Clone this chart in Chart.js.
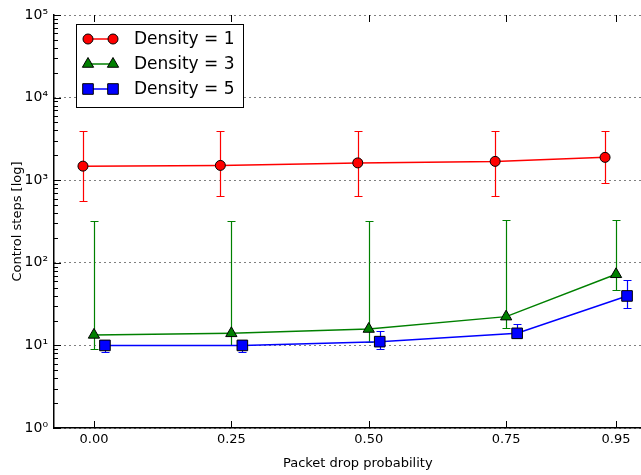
<!DOCTYPE html>
<html>
<head>
<meta charset="utf-8">
<script src="https://cdn.jsdelivr.net/npm/chart.js@4"></script>
<style>
    html, body { margin: 0; padding: 0; background: #fff; overflow: hidden; }
    #wrap { width: 670px; height: 475px; }
</style>
</head>
<body>
<div id="wrap"><canvas id="chart" width="670" height="475"></canvas></div>
<script>
// Data
const dropTicks = [0.00, 0.25, 0.50, 0.75, 0.95];
const tickLabels = ['0.00', '0.25', '0.50', '0.75', '0.95'];
const decadeLabels = ['10\u2070', '10\u00b9', '10\u00b2', '10\u00b3', '10\u2074', '10\u2075'];
const seriesLabels = ['Density = 1', 'Density = 3', 'Density = 5'];

const d1X = [-0.02, 0.23, 0.48, 0.73, 0.93];
const d1Y = [1480, 1510, 1620, 1690, 1890];
const d1Lo = [565, 650, 650, 650, 925];
const d1Hi = [3960, 3960, 3960, 3960, 3960];

const d3X = [0.00, 0.25, 0.50, 0.75, 0.95];
const d3Y = [13.4, 14, 15.8, 22.3, 72.6];
const d3Lo = [9.1, 10, 11, 16.2, 47];
const d3Hi = [318, 318, 318, 330, 330];

const d5X = [0.02, 0.27, 0.52, 0.77, 0.97];
const d5Y = [10, 10, 11.1, 14, 39.7];
const d5Lo = [8.3, 8.3, 9.1, 12.3, 28];
const d5Hi = [11.7, 11.7, 14.9, 18, 62];

const FONT = 'DejaVu Sans';

function points(xs, ys) {
    return xs.map((x, i) => ({ x: x, y: ys[i] }));
}

// error bars, drawn under the markers
const errorBars = {
    id: 'errorBars',
    beforeDatasetsDraw(chart) {
        const ctx = chart.ctx;
        const xs = chart.scales.x, ys = chart.scales.y;
        chart.data.datasets.forEach(ds => {
            ctx.save();
            ctx.strokeStyle = ds.errColor;
            ctx.lineWidth = 1.2;
            ds.data.forEach((p, i) => {
                const px = Math.round(xs.getPixelForValue(p.x)) + 0.5;
                const top = Math.round(ys.getPixelForValue(ds.errHi[i])) + 0.5;
                const bot = Math.round(ys.getPixelForValue(ds.errLo[i])) + 0.5;
                ctx.beginPath();
                ctx.moveTo(px, top); ctx.lineTo(px, bot);
                ctx.moveTo(px - 4, top); ctx.lineTo(px + 4, top);
                ctx.moveTo(px - 4, bot); ctx.lineTo(px + 4, bot);
                ctx.stroke();
            });
            ctx.restore();
        });
    }
};

// inward ticks (matplotlib classic look) and legend box
const frame = {
    id: 'frame',
    afterDraw(chart) {
        const ctx = chart.ctx;
        const area = chart.chartArea;
        const xs = chart.scales.x, ys = chart.scales.y;
        ctx.save();
        ctx.strokeStyle = '#000';
        ctx.lineWidth = 1;
        ctx.beginPath();
        dropTicks.forEach(v => {
            const px = Math.round(xs.getPixelForValue(v)) + 0.5;
            ctx.moveTo(px, area.bottom); ctx.lineTo(px, area.bottom - 7);
            ctx.moveTo(px, area.top); ctx.lineTo(px, area.top + 7);
        });
        for (let e = 0; e <= 5; e++) {
            const py = Math.round(ys.getPixelForValue(Math.pow(10, e))) + 0.5;
            ctx.moveTo(area.left, py); ctx.lineTo(area.left + 7, py);
            if (e < 5) {
                for (let m = 2; m <= 9; m++) {
                    const my = Math.round(ys.getPixelForValue(m * Math.pow(10, e))) + 0.5;
                    ctx.moveTo(area.left, my); ctx.lineTo(area.left + 4, my);
                }
            }
        }
        ctx.stroke();

        // legend
        const lx = 76, ly = 24, lw = 167, lh = 83;
        ctx.fillStyle = '#fff';
        ctx.fillRect(lx, ly, lw, lh);
        ctx.strokeRect(lx + 0.5, ly + 0.5, lw, lh);
        const rows = [39, 64, 89];
        chart.data.datasets.forEach((ds, i) => {
            const y = rows[i];
            ctx.strokeStyle = ds.borderColor;
            ctx.lineWidth = 1.5;
            ctx.beginPath();
            ctx.moveTo(88, y); ctx.lineTo(113, y);
            ctx.stroke();
            const opts = { pointStyle: ds.pointStyle, radius: ds.pointRadius, rotation: 0, borderWidth: 1 };
            ctx.fillStyle = ds.pointBackgroundColor;
            ctx.strokeStyle = '#000';
            ctx.lineWidth = 1;
            Chart.helpers.drawPoint(ctx, opts, 88, y);
            Chart.helpers.drawPoint(ctx, opts, 113, y);
            ctx.fillStyle = '#000';
            ctx.font = '17px "' + FONT + '"';
            ctx.textBaseline = 'middle';
            ctx.textAlign = 'left';
            ctx.fillText(ds.label, 134, y + 1);
        });
        ctx.restore();
    }
};

document.addEventListener('DOMContentLoaded', function() {
    const ctx = document.getElementById('chart').getContext('2d');

    const datasets = [
        { label: seriesLabels[0], data: points(d1X, d1Y), errLo: d1Lo, errHi: d1Hi, errColor: '#ff0000',
          borderColor: '#ff0000', pointBackgroundColor: '#ff0000', pointStyle: 'circle', pointRadius: 5 },
        { label: seriesLabels[1], data: points(d3X, d3Y), errLo: d3Lo, errHi: d3Hi, errColor: '#008000',
          borderColor: '#008000', pointBackgroundColor: '#008000', pointStyle: 'triangle', pointRadius: 6.5 },
        { label: seriesLabels[2], data: points(d5X, d5Y), errLo: d5Lo, errHi: d5Hi, errColor: '#0000ff',
          borderColor: '#0000ff', pointBackgroundColor: '#0000ff', pointStyle: 'rect', pointRadius: 7.5 }
    ];
    datasets.forEach(ds => {
        ds.borderWidth = 1.5;
        ds.pointBorderColor = '#000';
        ds.pointBorderWidth = 1;
        ds.pointHoverRadius = ds.pointRadius;
        ds.tension = 0;
        ds.fill = false;
    });

    new Chart(ctx, {
        type: 'line',
        data: { datasets: datasets },
        options: {
            responsive: false,
            animation: false,
            layout: { padding: { top: 15, left: 0, right: 2, bottom: 0 } },
            plugins: { legend: { display: false }, tooltip: { enabled: false } },
            scales: {
                x: {
                    type: 'linear',
                    min: -0.0727,
                    max: 1.0327,
                    afterBuildTicks: function(scale) {
                        scale.ticks = dropTicks.map(v => ({ value: v }));
                    },
                    afterFit: function(scale) { scale.height = 47; },
                    ticks: {
                        callback: function(value) {
                            const i = dropTicks.indexOf(value);
                            return i >= 0 ? tickLabels[i] : '';
                        },
                        color: '#000',
                        font: { family: FONT, size: 13 },
                        padding: 4,
                        maxRotation: 0,
                        autoSkip: false
                    },
                    grid: { display: false, drawTicks: false },
                    border: { color: '#000', width: 1.5 },
                    title: {
                        display: true,
                        text: 'Packet drop probability',
                        color: '#000',
                        font: { family: FONT, size: 13 },
                        padding: { top: 2, bottom: 4 }
                    }
                },
                y: {
                    type: 'logarithmic',
                    min: 1,
                    max: 100000,
                    afterBuildTicks: function(scale) {
                        scale.ticks = [0, 1, 2, 3, 4, 5].map(e => ({ value: Math.pow(10, e) }));
                    },
                    afterFit: function(scale) { scale.width = 54; },
                    ticks: {
                        callback: function(value) {
                            return decadeLabels[Math.round(Math.log10(value))];
                        },
                        color: '#000',
                        font: { family: FONT, size: 14 },
                        padding: 6
                    },
                    grid: {
                        color: '#000',
                        lineWidth: 1,
                        drawTicks: false
                    },
                    // in v4 the dash of the grid lines comes from border.dash
                    border: { color: '#000', width: 1.5, dash: [1, 4] },
                    title: {
                        display: true,
                        text: 'Control steps [log]',
                        color: '#000',
                        font: { family: FONT, size: 13 },
                        padding: { top: 10, bottom: 2 }
                    }
                }
            }
        },
        plugins: [errorBars, frame]
    });
});
</script>
</body>
</html>
